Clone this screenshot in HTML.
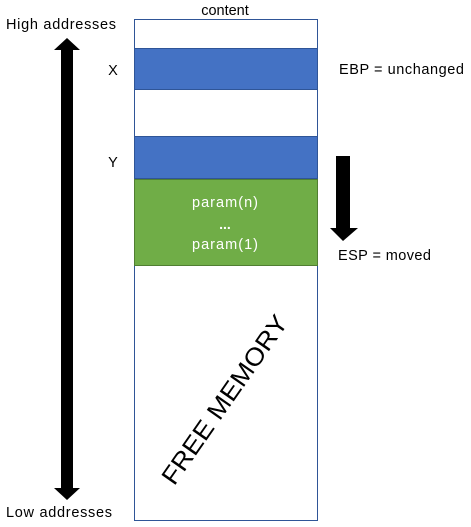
<!DOCTYPE html>
<html><head><meta charset="utf-8"><style>
html,body{margin:0;padding:0;background:#fff}
svg{display:block;font-family:"Liberation Sans",Calibri,sans-serif}
</style></head><body>
<svg width="471" height="527" viewBox="0 0 471 527">
<text x="225" y="15" font-size="14.5" text-anchor="middle" fill="#000">content</text>
<rect x="134.5" y="19.5" width="183" height="501" fill="#fff" stroke="#2f5597" stroke-width="1"/>
<rect x="134.5" y="48.5" width="183" height="41" fill="#4472c4" stroke="#2f5597" stroke-width="1"/>
<rect x="134.5" y="136.5" width="183" height="42" fill="#4472c4" stroke="#2f5597" stroke-width="1"/>
<rect x="134.5" y="179.5" width="183" height="86" fill="#70ad47" stroke="#507e32" stroke-width="1"/>
<text x="225" y="207" font-size="14.5" fill="#fff" text-anchor="middle" textLength="66">param(n)</text>
<text x="225" y="229" font-size="14" font-weight="bold" fill="#fff" text-anchor="middle">...</text>
<text x="225" y="249" font-size="14.5" fill="#fff" text-anchor="middle" textLength="66">param(1)</text>
<text x="113" y="75" font-size="14.5" text-anchor="middle">X</text>
<text x="113" y="167" font-size="14.5" text-anchor="middle">Y</text>
<text x="339" y="74" font-size="14.5" textLength="125">EBP = unchanged</text>
<text x="338" y="260" font-size="14.5" textLength="93">ESP = moved</text>
<text x="6" y="29" font-size="14.5" textLength="110">High addresses</text>
<text x="6" y="517" font-size="14.5" textLength="106">Low addresses</text>
<polygon points="67,38 80,50 73,50 73,488 80,488 67,500 54,488 61,488 61,50 54,50" fill="#000"/>
<polygon points="336,156 350,156 350,228 358,228 343,241 330,228 336,228" fill="#000"/>
<text x="225" y="408" font-size="25" text-anchor="middle" textLength="200" lengthAdjust="spacingAndGlyphs" transform="rotate(-55 225 400)">FREE MEMORY</text>
</svg>
</body></html>
